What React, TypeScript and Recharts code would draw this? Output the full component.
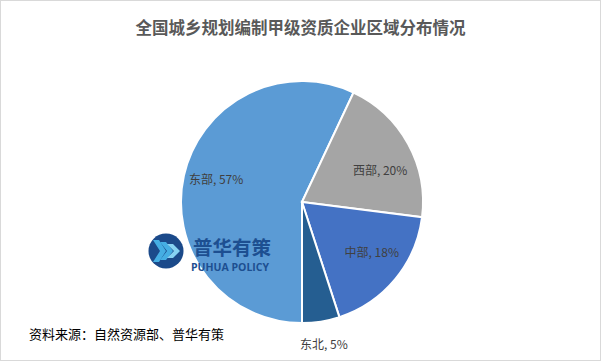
import React from 'react';
import { PieChart, Pie, Cell } from 'recharts';

const regions = ['东部', '西部', '中部', '东北'];
const shares = [57, 20, 18, 5];
const sliceColors = ['#5B9BD5', '#A5A5A5', '#4472C4', '#255E91'];
// label radius as a fraction of the outer radius, plus small nudges
const labelRadius = [0.727, 0.727, 0.727, 1.157];
const labelNudge = [
  [0, -4],
  [1, 10],
  [2, -7],
  [0, 3],
];

const data = regions.map((name, i) => ({ name, value: shares[i] }));

const RAD = Math.PI / 180;
const font = '"Noto Sans CJK SC", "Microsoft YaHei", sans-serif';

const renderLabel = (props: any) => {
  const { cx, cy, midAngle, outerRadius, index } = props;
  const r = outerRadius * labelRadius[index];
  const x = cx + r * Math.cos(-midAngle * RAD) + labelNudge[index][0];
  const y = cy + r * Math.sin(-midAngle * RAD) + labelNudge[index][1];
  return (
    <text
      x={x}
      y={y}
      textAnchor="middle"
      dominantBaseline="central"
      fill="#404040"
      fontSize={12}
      fontFamily={font}
    >
      {`${data[index].name}, ${data[index].value}%`}
    </text>
  );
};

const Logo = () => (
  <svg width={140} height={48} style={{ position: 'absolute', left: 146, top: 227 }}>
    <circle cx={19} cy={23} r={17.5} fill="#1B4A8A" />
    {[0, 1, 2].map(i => (
      <polygon
        key={i}
        points={`${6 + i * 7},${12 + i * 2} ${12 + i * 7},${12 + i * 2} ${19 + i * 7},${23} ${12 + i * 7},${34 - i * 2} ${6 + i * 7},${34 - i * 2} ${13 + i * 7},${23}`}
        fill={i === 2 ? '#86D3F3' : '#45AEE3'}
      />
    ))}
    <text x={46} y={27} fill="#1D4F91" fontSize={19.5} fontWeight="bold" fontFamily={font}>
      普华有策
    </text>
    <text x={44} y={43} fill="#1D4F91" fontSize={10.5} fontWeight="bold" fontFamily="'Open Sans', sans-serif">
      PUHUA POLICY
    </text>
  </svg>
);

export default function App() {
  return (
    <div
      style={{
        position: 'relative',
        width: 601,
        height: 361,
        boxSizing: 'border-box',
        border: '1px solid #D9D9D9',
        background: '#fff',
        overflow: 'hidden',
      }}
    >
      <style>{'body{margin:0}'}</style>
      <div
        style={{
          position: 'absolute',
          left: -1,
          width: 601,
          top: 14,
          textAlign: 'center',
          fontFamily: font,
          fontSize: 16.5,
          fontWeight: 'bold',
          color: '#595959',
        }}
      >
        全国城乡规划编制甲级资质企业区域分布情况
      </div>
      <div style={{ position: 'absolute', left: -1, top: -1 }}>
        <PieChart width={601} height={361} margin={{ top: 0, right: 0, bottom: 0, left: 0 }}>
          <Pie
            data={data}
            dataKey="value"
            nameKey="name"
            cx={302}
            cy={202}
            outerRadius={121}
            startAngle={-90}
            endAngle={-450}
            stroke="#FFFFFF"
            strokeWidth={2}
            label={renderLabel}
            labelLine={false}
            isAnimationActive={false}
          >
            {data.map((d, i) => (
              <Cell key={d.name} fill={sliceColors[i]} />
            ))}
          </Pie>
        </PieChart>
      </div>
      <Logo />
      <div
        style={{
          position: 'absolute',
          left: 28,
          top: 323,
          fontFamily: font,
          fontSize: 13,
          color: '#000',
        }}
      >
        资料来源：自然资源部、普华有策
      </div>
    </div>
  );
}
